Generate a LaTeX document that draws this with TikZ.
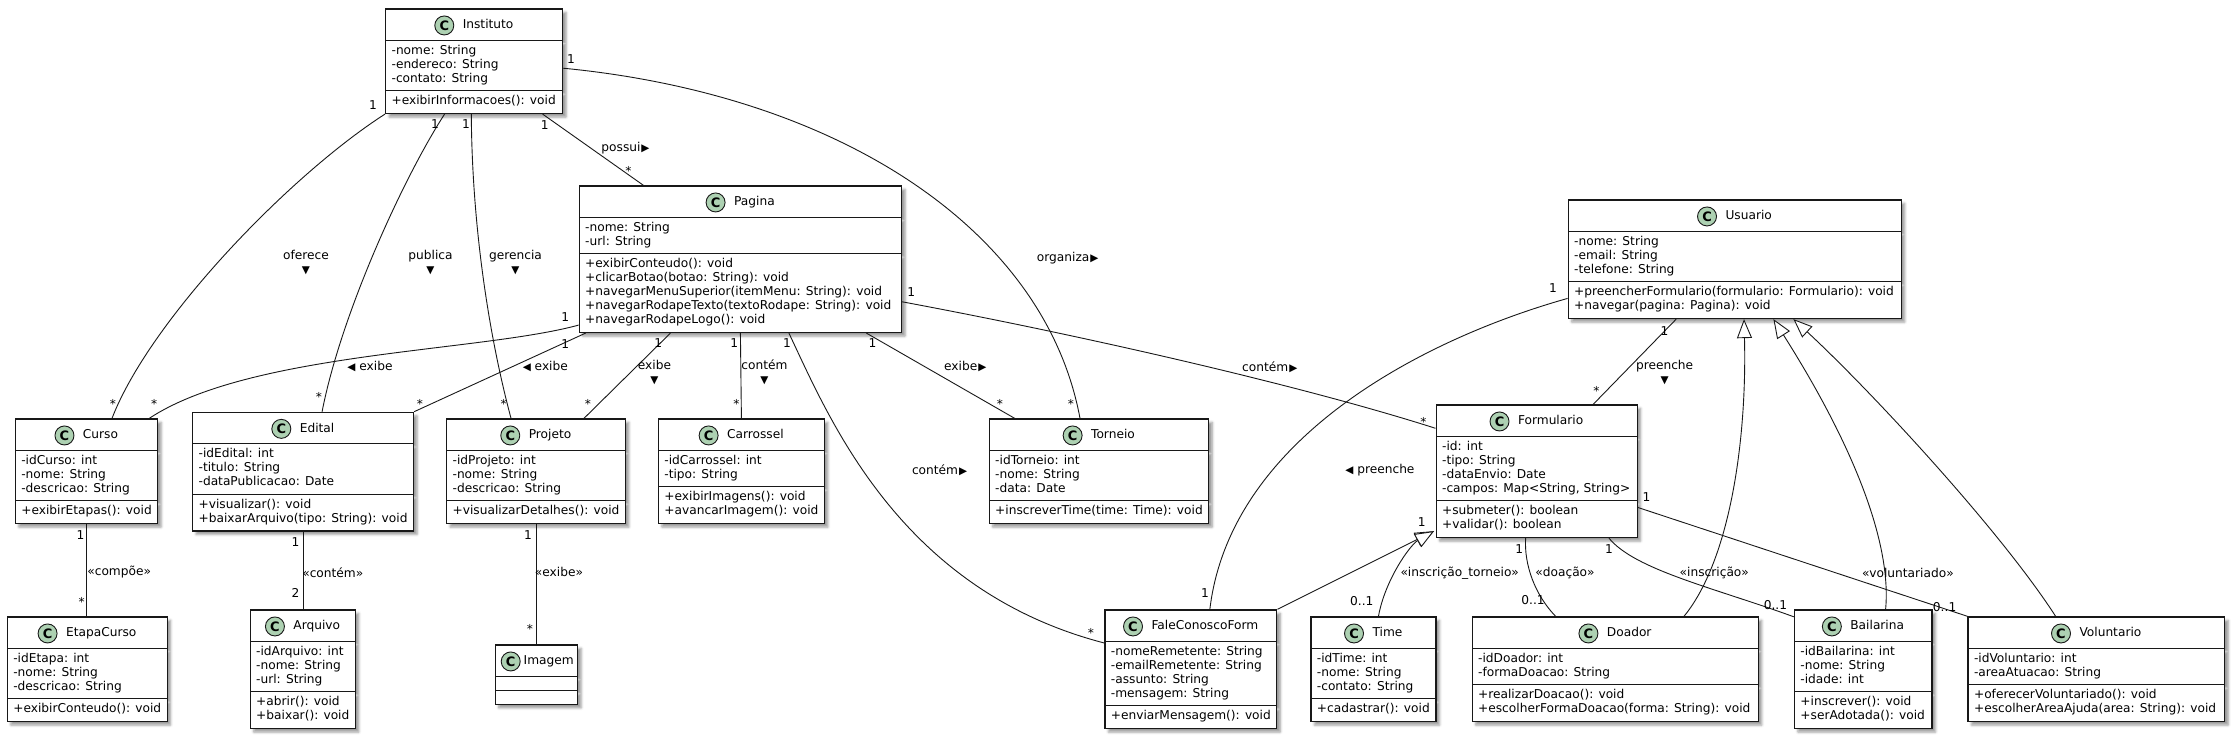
\documentclass[tikz,border=0pt]{standalone}
\usepackage{fontspec}
\setmainfont{DejaVu Sans}
\usetikzlibrary{shapes.multipart,arrows.meta,shadows.blur,calc}
\definecolor{iconfill}{HTML}{ADD1B2}
\definecolor{umlline}{HTML}{181818}
\newcommand\arR{\kern1pt\raisebox{0pt}{\fontsize{10.5}{10}\selectfont ▶}}
\newcommand\arL{\raisebox{0pt}{\fontsize{10.5}{10}\selectfont ◀}}
\newcommand\arD{{\fontsize{10.5}{10}\selectfont ▼}}
\newcommand\hdr[2][28pt]{\rule[-6.8pt]{0pt}{22.5pt}\hspace*{#1}#2}
\newcommand\umlclass[7]{%
  \node[classbox, minimum width=#4pt] (#1) at (#2,#3) {#5\nodepart{two}#6\nodepart{three}#7};
  \node[classicon] (#1-icon) at ([shift={(9.5pt,3.5pt)}]#1.text) {C};
}
\begin{document}
\begin{tikzpicture}[x=1pt,y=-1pt,
  classbox/.style={rectangle split, rectangle split parts=3,
    rectangle split part align={center,left,left},
    draw=umlline, line width=1.2pt, fill=white, align=left,
    inner xsep=6pt, inner ysep=3.75pt, anchor=north west,
    font=\fontsize{12.2}{14}\selectfont,
    blur shadow={shadow xshift=3.5pt, shadow yshift=-3.5pt, shadow blur radius=2.5pt, shadow opacity=40}},
  classicon/.style={circle, draw=umlline, line width=0.9pt, fill=iconfill,
    minimum size=19pt, inner sep=0pt, font=\fontsize{13}{14}\selectfont\bfseries},
  link/.style={draw=umlline, line width=0.9pt},
  inh/.style={link, -{Triangle[length=19pt, width=15pt, fill=white]}},
  lbl/.style={font=\fontsize{12.2}{14}\selectfont, inner sep=0pt, align=center},
]
\useasboundingbox (0,0) rectangle (2234,734);

% ---------------- classes ----------------
\umlclass{Instituto}{385}{8.3}{177}{\hdr{Instituto}}
 {\strut-nome: String\\\strut-endereco: String\\\strut-contato: String}
 {\strut+exibirInformacoes(): void}
\umlclass{Pagina}{578.6}{185.3}{322.4}{\hdr{Pagina}}
 {\strut-nome: String\\\strut-url: String}
 {\strut+exibirConteudo(): void\\\strut+clicarBotao(botao: String): void\\\strut+navegarMenuSuperior(itemMenu: String): void\\\strut+navegarRodapeTexto(textoRodape: String): void\\\strut+navegarRodapeLogo(): void}
\umlclass{Usuario}{1567.6}{199.3}{333}{\hdr{Usuario}}
 {\strut-nome: String\\\strut-email: String\\\strut-telefone: String}
 {\strut+preencherFormulario(formulario: Formulario): void\\\strut+navegar(pagina: Pagina): void}
\umlclass{Curso}{14.7}{418.3}{141.6}{\hdr{Curso}}
 {\strut-idCurso: int\\\strut-nome: String\\\strut-descricao: String}
 {\strut+exibirEtapas(): void}
\umlclass{Edital}{192}{411.7}{217}{\hdr{Edital}}
 {\strut-idEdital: int\\\strut-titulo: String\\\strut-dataPublicacao: Date}
 {\strut+visualizar(): void\\\strut+baixarArquivo(tipo: String): void}
\umlclass{Projeto}{446}{418.3}{176.3}{\hdr{Projeto}}
 {\strut-idProjeto: int\\\strut-nome: String\\\strut-descricao: String}
 {\strut+visualizarDetalhes(): void}
\umlclass{Carrossel}{657.8}{418.3}{163.4}{\hdr{Carrossel}}
 {\strut-idCarrossel: int\\\strut-tipo: String}
 {\strut+exibirImagens(): void\\\strut+avancarImagem(): void}
\umlclass{Torneio}{988.6}{418.3}{215.2}{\hdr{Torneio}}
 {\strut-idTorneio: int\\\strut-nome: String\\\strut-data: Date}
 {\strut+inscreverTime(time: Time): void}
\umlclass{Formulario}{1435.5}{404.3}{201}{\hdr{Formulario}}
 {\strut-id: int\\\strut-tipo: String\\\strut-dataEnvio: Date\\\strut-campos: Map<String, String>}
 {\strut+submeter(): boolean\\\strut+validar(): boolean}
\umlclass{EtapaCurso}{6.7}{616.3}{158.5}{\hdr{EtapaCurso}}
 {\strut-idEtapa: int\\\strut-nome: String\\\strut-descricao: String}
 {\strut+exibirConteudo(): void}
\umlclass{Arquivo}{249.6}{609.3}{102.6}{\hdr{Arquivo}}
 {\strut-idArquivo: int\\\strut-nome: String\\\strut-url: String}
 {\strut+abrir(): void\\\strut+baixar(): void}
\umlclass{Imagem}{494.6}{644.3}{78.6}{\hdr[22.5pt]{\makebox[48pt][l]{Imagem}}}
 {}
 {}
\umlclass{FaleConoscoForm}{1104.3}{609.3}{170.7}{\hdr{FaleConoscoForm}}
 {\strut-nomeRemetente: String\\\strut-emailRemetente: String\\\strut-assunto: String\\\strut-mensagem: String}
 {\strut+enviarMensagem(): void}
\umlclass{Time}{1310.3}{616.3}{125.1}{\hdr{Time}}
 {\strut-idTime: int\\\strut-nome: String\\\strut-contato: String}
 {\strut+cadastrar(): void}
\umlclass{Doador}{1471.5}{616.3}{286.2}{\hdr{Doador}}
 {\strut-idDoador: int\\\strut-formaDoacao: String}
 {\strut+realizarDoacao(): void\\\strut+escolherFormaDoacao(forma: String): void}
\umlclass{Bailarina}{1793.8}{609.3}{137.6}{\hdr{Bailarina}}
 {\strut-idBailarina: int\\\strut-nome: String\\\strut-idade: int}
 {\strut+inscrever(): void\\\strut+serAdotada(): void}
\umlclass{Voluntario}{1967.4}{616.3}{256.8}{\hdr{Voluntario}}
 {\strut-idVoluntario: int\\\strut-areaAtuacao: String}
 {\strut+oferecerVoluntariado(): void\\\strut+escolherAreaAjuda(area: String): void}

% ---------------- connectors ----------------
\draw[link] (Instituto.south west) .. controls (290,175) and (150,320) .. ([xshift=25.5pt]Curso.north);
\draw[link] ([xshift=-29.5pt]Instituto.south) .. controls (405,175) and (341.6,311.7) .. ([xshift=19pt]Edital.north);
\draw[link] ([xshift=-2.8pt]Instituto.south) .. controls (472,230) and (490,340) .. ([xshift=-25pt]Projeto.north);
\draw[link] ([xshift=68.5pt]Instituto.south) -- ([xshift=-97pt]Pagina.north);
\draw[link] ([yshift=-7pt]Instituto.east) .. controls (840,95) and (1045,230) .. ([xshift=-19pt]Torneio.north);
\draw[link] ([yshift=8pt]Pagina.south west) .. controls (480,352) and (250,352) .. ([xshift=-9pt]Curso.north east);
\draw[link] ([xshift=7pt]Pagina.south west) -- (Edital.north east);
\draw[link] ([xshift=-70pt]Pagina.south) -- ([xshift=48pt]Projeto.north);
\draw[link] (Pagina.south) -- (Carrossel.north);
\draw[link] ([xshift=48.5pt]Pagina.south) .. controls (830,420) and (900,590) .. ([yshift=-33.7pt]FaleConoscoForm.north west);
\draw[link] ([xshift=126pt]Pagina.south) -- ([xshift=26pt]Torneio.north west);
\draw[link] ([yshift=31.3pt]Pagina.south east) .. controls (1080,335) and (1300,385) .. ([yshift=-24pt]Formulario.north west);
\draw[link] ([xshift=-58.5pt]Usuario.south) -- ([xshift=56.6pt]Formulario.north);
\draw[link] ([yshift=20.7pt]Usuario.south west) .. controls (1420,340) and (1230,440) .. ([xshift=19pt]FaleConoscoForm.north);
\draw[inh] (FaleConoscoForm.north east) -- ([shift={(-1.5pt,7pt)}]Formulario.south west);
\draw[inh] ([xshift=5pt]Time.north) .. controls (1385,580) and (1410,545) .. ([shift={(-1.5pt,7pt)}]Formulario.south west);
\draw[link] ([xshift=-11pt]Formulario.south) .. controls (1524,565) and (1535,595) .. ([xshift=-59.6pt]Doador.north);
\draw[link] ([xshift=72.3pt]Formulario.south) .. controls (1635,570) and (1715,588) .. ([yshift=-7.5pt]Bailarina.north west);
\draw[link] ([yshift=30.7pt]Formulario.south east) -- (Voluntario.north west);
\draw[inh] ([xshift=68.8pt]Doador.north) .. controls (1730,560) and (1747,440) .. ([xshift=9.3pt]Usuario.south);
\draw[inh] ([xshift=22.4pt]Bailarina.north) .. controls (1892,540) and (1850,440) .. ([xshift=38.7pt]Usuario.south);
\draw[inh] ([xshift=-40.8pt]Voluntario.north) .. controls (2000,530) and (1870,390) .. ([xshift=58.7pt]Usuario.south);
\draw[link] (Curso.south) -- (Curso.south |- EtapaCurso.north);
\draw[link] (Edital.south) -- (Edital.south |- Arquivo.north);
\draw[link] (Projeto.south) -- (Projeto.south |- Imagem.north);

% ---------------- relation labels ----------------
\node[lbl] (t1) at (306,263) {oferece\\\arD};
\node[lbl] (t2) at (430.5,263) {publica\\\arD};
\node[lbl] (t3) at (515.5,263) {gerencia\\\arD};
\node[lbl] (t4) at (625.5,147.7) {possui\arR};
\node[lbl] (t5) at (1067.7,258.3) {organiza\arR};
\node[lbl] (t6) at (370,366.7) {\arL\ exibe};
\node[lbl] (t7) at (545.3,366.7) {\arL\ exibe};
\node[lbl] (t8) at (654.5,372.7) {exibe\\\arD};
\node[lbl] (t9) at (764.4,372.7) {contém\\\arD};
\node[lbl] (t10) at (965.2,366.7) {exibe\arR};
\node[lbl] (t11) at (939.6,470) {contém\arR};
\node[lbl] (t12) at (1269.8,367.3) {contém\arR};
\node[lbl] (t13) at (1664.6,372.7) {preenche\\\arD};
\node[lbl] (t14) at (1379.9,470) {\arL\ preenche};
\node[lbl] (t15) at (1459.7,572.7) {«inscrição\_torneio»};
\node[lbl] (t16) at (1565,572.7) {«doação»};
\node[lbl] (t17) at (1714.3,572.7) {«inscrição»};
\node[lbl] (t18) at (1907.9,572.7) {«voluntariado»};
\node[lbl] (t19) at (119.2,572.3) {«compõe»};
\node[lbl] (t20) at (332.8,572.3) {«contém»};
\node[lbl] (t21) at (559,572.3) {«exibe»};

% ---------------- multiplicities ----------------
\node[lbl] (m1) at (373,105) {1};
\node[lbl] (m2) at (435.1,124) {1};
\node[lbl] (m3) at (466.1,124) {1};
\node[lbl] (m4) at (544.8,125) {1};
\node[lbl] (m5) at (628.5,170.8) {*};
\node[lbl] (m6) at (571,59.3) {1};
\node[lbl] (m7) at (1071,404.2) {*};
\node[lbl] (m8) at (112.9,404.2) {*};
\node[lbl] (m9) at (154.2,404.2) {*};
\node[lbl] (m10) at (318.8,396.5) {*};
\node[lbl] (m11) at (419.8,404.2) {*};
\node[lbl] (m12) at (503.6,404.2) {*};
\node[lbl] (m13) at (565.3,317.3) {1};
\node[lbl] (m14) at (565.3,344.3) {1};
\node[lbl] (m15) at (658.3,343.3) {1};
\node[lbl] (m16) at (587.8,404.2) {*};
\node[lbl] (m17) at (734.2,343.3) {1};
\node[lbl] (m18) at (736.4,404.2) {*};
\node[lbl] (m19) at (786.9,343.3) {1};
\node[lbl] (m20) at (1091,632.5) {*};
\node[lbl] (m21) at (872.6,343.3) {1};
\node[lbl] (m22) at (999.8,404.2) {*};
\node[lbl] (m23) at (911.3,291.7) {1};
\node[lbl] (m24) at (1423.4,421.5) {*};
\node[lbl] (m25) at (1664.4,330.7) {1};
\node[lbl] (m26) at (1596.3,390.8) {*};
\node[lbl] (m27) at (1553,288.3) {1};
\node[lbl] (m28) at (1205,593.3) {1};
\node[lbl] (m29) at (1421.7,522.3) {1};
\node[lbl] (m30) at (1361.8,601) {0..1};
\node[lbl] (m31) at (1519.3,549.3) {1};
\node[lbl] (m32) at (1533,600) {0..1};
\node[lbl] (m33) at (1609,549.3) {1};
\node[lbl] (m34) at (1775.4,605) {0..1};
\node[lbl] (m35) at (1646.6,497.3) {1};
\node[lbl] (m36) at (1944.6,606.7) {0..1};
\node[lbl] (m37) at (80.4,535) {1};
\node[lbl] (m38) at (81.7,601.8) {*};
\node[lbl] (m39) at (295.5,542.3) {1};
\node[lbl] (m40) at (295.5,593.3) {2};
\node[lbl] (m41) at (528,535) {1};
\node[lbl] (m42) at (530,629.2) {*};
\end{tikzpicture}
\end{document}
